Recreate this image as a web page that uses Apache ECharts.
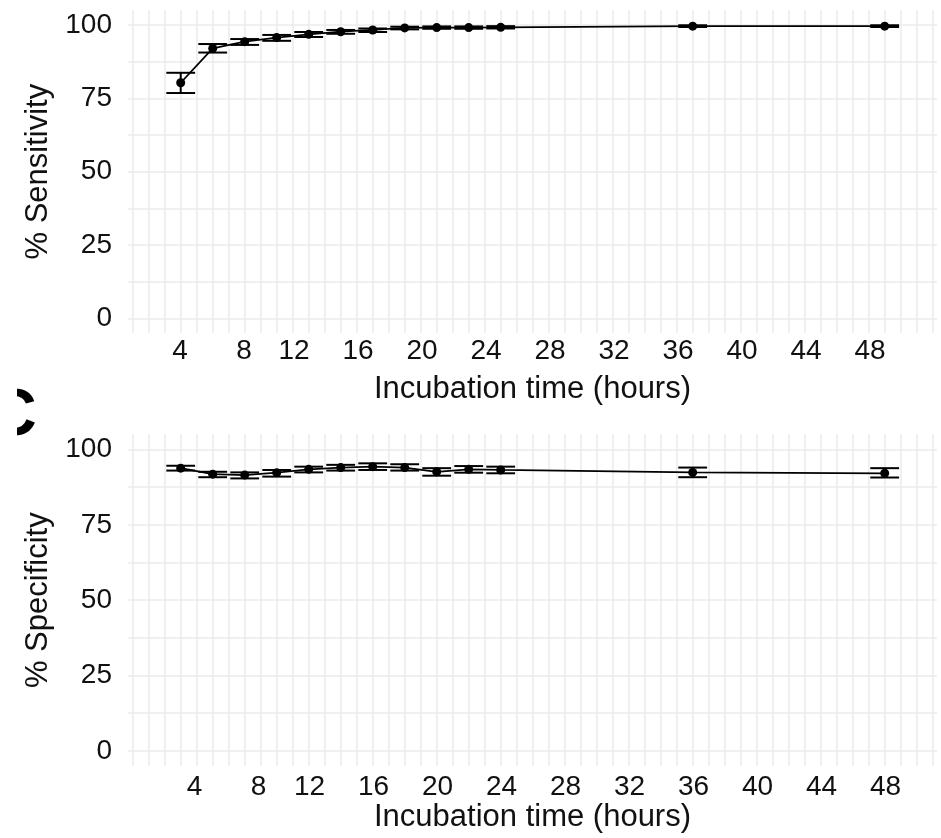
<!DOCTYPE html>
<html>
<head>
<meta charset="utf-8">
<script src="https://cdn.jsdelivr.net/npm/echarts@6.0.0/dist/echarts.min.js"></script>
<style>
  html, body { margin: 0; padding: 0; background: #fff; }
  #chart { width: 941px; height: 838px; }
</style>
</head>
<body>
<div id="chart"></div>
<script>
// incubation hours
const hours = [4, 6, 8, 10, 12, 14, 16, 18, 20, 22, 24, 36, 48];

// % sensitivity (mean, lower, upper)
const sensMean = [80.3, 92.0, 94.3, 95.7, 96.8, 97.7, 98.3, 99.0, 99.1, 99.1, 99.2, 99.6, 99.6];
const sensLow  = [76.8, 90.6, 93.2, 94.6, 95.9, 97.0, 97.6, 98.5, 98.7, 98.7, 98.8, 99.3, 99.3];
const sensHigh = [83.7, 93.5, 95.2, 96.6, 97.6, 98.3, 98.8, 99.4, 99.5, 99.5, 99.6, 99.9, 99.9];

// % specificity (mean, lower, upper)
const specMean = [93.8, 91.8, 91.5, 92.3, 93.4, 94.0, 94.3, 94.0, 92.6, 93.4, 93.2, 92.4, 92.1];
const specLow  = [93.0, 90.8, 90.4, 91.0, 92.4, 93.0, 93.2, 93.0, 91.3, 92.3, 92.1, 90.8, 90.7];
const specHigh = [94.6, 92.6, 92.4, 93.2, 94.3, 94.9, 95.4, 95.1, 93.8, 94.5, 94.3, 94.0, 93.8];

// axis ticks
const xTicks = [4, 8, 12, 16, 20, 24, 28, 32, 36, 40, 44, 48];
const xTickLabels = ['4', '8', '12', '16', '20', '24', '28', '32', '36', '40', '44', '48'];
const yTicks = [0, 25, 50, 75, 100];

const xMin = 0.706, xMax = 51.27;
const xGridLines = [];
for (let h = 1; h <= 51; h++) xGridLines.push(h);
const yGridLines = [0, 12.5, 25, 37.5, 50, 62.5, 75, 87.5, 100];

// the labels in the figure sit a little off the grid
const topLabelPos = xTicks.map(v => v < 12 ? v - 0.04 : v - 0.92);
const botLabelPos = xTicks.map(v => v < 12 ? v + 0.86 : v + 0.05);

const font = 'Liberation Sans, Arial, sans-serif';
const textColor = '#111';
const gridColor = '#ebebeb';

function makeX(gridIndex, labelPos, margin, nameGap) {
  return {
    type: 'value',
    gridIndex: gridIndex,
    min: xMin,
    max: xMax,
    axisLine: { show: false },
    axisTick: { show: false, customValues: xGridLines },
    splitLine: { show: true, lineStyle: { color: gridColor, width: 1.5 } },
    axisLabel: {
      customValues: labelPos,
      fontSize: 28,
      fontFamily: font,
      color: textColor,
      margin: margin,
      formatter: function (v) {
        let i = labelPos.findIndex(p => Math.abs(p - v) < 1e-6);
        return i >= 0 ? xTickLabels[i] : '';
      }
    },
    name: 'Incubation time (hours)',
    nameLocation: 'middle',
    nameGap: nameGap,
    nameTextStyle: { fontSize: 31, fontFamily: font, color: textColor }
  };
}

function makeY(gridIndex, name) {
  return {
    type: 'value',
    gridIndex: gridIndex,
    min: -5,
    max: 105,
    axisLine: { show: false },
    axisTick: { show: false, customValues: yGridLines },
    splitLine: { show: true, lineStyle: { color: gridColor, width: 1.5 } },
    axisLabel: {
      customValues: yTicks,
      fontSize: 28,
      fontFamily: font,
      color: textColor,
      margin: 16
    },
    name: name,
    nameLocation: 'middle',
    nameRotate: 90,
    nameGap: 64,
    nameTextStyle: { fontSize: 31, fontFamily: font, color: textColor }
  };
}

function errorBars(xAxisIndex, yAxisIndex, low, high) {
  return {
    type: 'custom',
    xAxisIndex: xAxisIndex,
    yAxisIndex: yAxisIndex,
    data: hours.map((h, i) => [h, low[i], high[i]]),
    renderItem: function (params, api) {
      let lo = api.coord([api.value(0), api.value(1)]);
      let hi = api.coord([api.value(0), api.value(2)]);
      let half = api.size([0.9, 0])[0];
      let style = { stroke: '#000', lineWidth: 2 };
      return {
        type: 'group',
        children: [
          { type: 'line', shape: { x1: lo[0], y1: lo[1], x2: hi[0], y2: hi[1] }, style: style },
          { type: 'line', shape: { x1: lo[0] - half, y1: lo[1], x2: lo[0] + half, y2: lo[1] }, style: style },
          { type: 'line', shape: { x1: hi[0] - half, y1: hi[1], x2: hi[0] + half, y2: hi[1] }, style: style }
        ]
      };
    },
    z: 3
  };
}

function meanLine(xAxisIndex, yAxisIndex, mean) {
  return {
    type: 'line',
    xAxisIndex: xAxisIndex,
    yAxisIndex: yAxisIndex,
    data: hours.map((h, i) => [h, mean[i]]),
    symbol: 'circle',
    symbolSize: 9,
    showSymbol: true,
    itemStyle: { color: '#000' },
    lineStyle: { color: '#000', width: 1.8 },
    z: 4
  };
}

let myChart = echarts.init(document.getElementById('chart'));
myChart.setOption({
  animation: false,
  grid: [
    { left: 128, right: 4, top: 10.3, height: 322.7 },
    { left: 128, right: 4, top: 434.4, height: 331.6 }
  ],
  xAxis: [
    makeX(0, topLabelPos, 4, 41),
    makeX(1, botLabelPos, 7, 35)
  ],
  yAxis: [
    makeY(0, '% Sensitivity'),
    makeY(1, '% Specificity')
  ],
  series: [
    errorBars(0, 0, sensLow, sensHigh),
    meanLine(0, 0, sensMean),
    errorBars(1, 1, specLow, specHigh),
    meanLine(1, 1, specMean)
  ],
  graphic: [
    {
      type: 'text',
      left: -11,
      top: 384,
      style: { text: 'C', font: 'bold 66px Liberation Sans, Arial, sans-serif', fill: '#000' }
    },
    {
      type: 'rect',
      shape: { x: 0, y: 370, width: 17, height: 80 },
      style: { fill: '#fff' },
      z: 10
    }
  ]
});
</script>
</body>
</html>
